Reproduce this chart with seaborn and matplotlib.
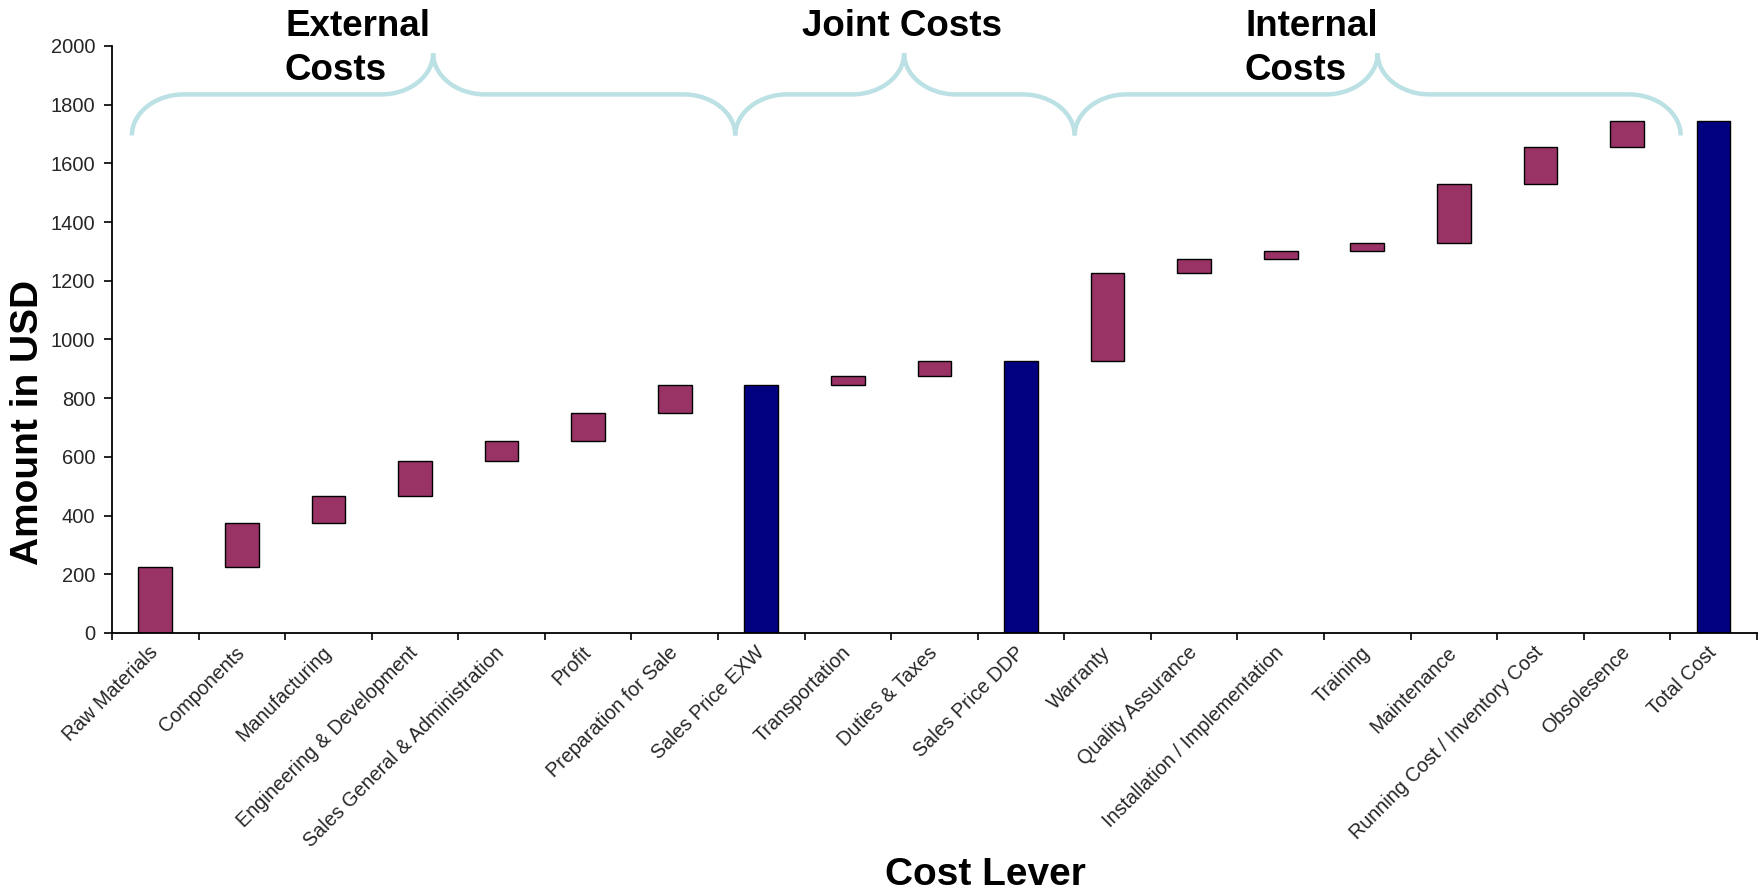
import numpy as np
import pandas as pd
import matplotlib
matplotlib.use("Agg")
import matplotlib.pyplot as plt
import seaborn as sns
from matplotlib.path import Path
from matplotlib.patches import PathPatch

# Cost levers in order, with the kind of bar each one gets
levers = [
    "Raw Materials", "Components", "Manufacturing", "Engineering & Development",
    "Sales General & Administration", "Profit", "Preparation for Sale",
    "Sales Price EXW", "Transportation", "Duties & Taxes", "Sales Price DDP",
    "Warranty", "Quality Assurance", "Installation / Implementation", "Training",
    "Maintenance", "Running Cost / Inventory Cost", "Obsolesence", "Total Cost",
]
kinds = ["step"] * 7 + ["total"] + ["step"] * 2 + ["total"] + ["step"] * 7 + ["total"]

# Amount added by each step (USD); totals are the running sum
step_amounts = [225, 150, 90, 120, 70, 95, 95, 0, 30, 50, 0,
                300, 50, 25, 30, 200, 125, 90, 0]

# Cost group headings
groups = ["External\nCosts", "Joint Costs", "Internal\nCosts"]

y_ticks = [0, 200, 400, 600, 800, 1000, 1200, 1400, 1600, 1800, 2000]

STEP_COLOR = "#993366"
TOTAL_COLOR = "#000080"
BRACE_COLOR = "#bbe1e5"

# Waterfall geometry: floating steps sit on the running total, totals start at 0
heights, bottoms = [], []
running = 0
for kind, amt in zip(kinds, step_amounts):
    if kind == "step":
        bottoms.append(running)
        heights.append(amt)
        running += amt
    else:
        bottoms.append(0)
        heights.append(running)

df = pd.DataFrame({"lever": levers, "amount": heights, "base": bottoms, "kind": kinds})

sns.set_theme(style="white")
plt.rcParams["font.family"] = ["Liberation Sans", "DejaVu Sans"]

fig = plt.figure(figsize=(17.63, 8.91), dpi=100)
ax = fig.add_axes([0.0635, 0.2896, 0.933, 0.6588])

sns.barplot(data=df, x="lever", y="amount", order=levers, bottom=df["base"].to_numpy(),
            width=0.39, color=STEP_COLOR, edgecolor="black", linewidth=1.0,
            errorbar=None, saturation=1, ax=ax)
for patch, kind in zip(ax.patches, df["kind"]):
    patch.set_facecolor(TOTAL_COLOR if kind == "total" else STEP_COLOR)

ax.set_xlim(-0.5, len(levers) - 0.5)
ax.set_ylim(0, 2000)
ax.set_yticks(y_ticks)
ax.set_yticklabels([str(t) for t in y_ticks], fontsize=14.5)

# category labels centred under bars, tick marks on the category boundaries
ax.set_xticks(range(len(levers)))
ax.set_xticklabels(levers, rotation=45, ha="right", va="center",
                   rotation_mode="anchor", fontsize=14.2)
ax.set_xticks(np.arange(-0.5, len(levers)), minor=True)
ax.tick_params(axis="x", which="major", length=0, pad=12)
ax.tick_params(axis="x", which="minor", length=5, width=1.2, direction="out",
               color="black", bottom=True)
ax.tick_params(axis="y", which="major", length=6, width=1.2, direction="out",
               color="black", left=True, pad=6)

for side in ("top", "right"):
    ax.spines[side].set_visible(False)
for side in ("left", "bottom"):
    ax.spines[side].set_color("black")
    ax.spines[side].set_linewidth(1.3)

ax.set_xlabel("Cost Lever", fontsize=28, fontweight="bold", color="black")
ax.xaxis.set_label_coords(0.531, -0.381)
ax.set_ylabel("Amount in USD", fontsize=28, fontweight="bold", color="black", va="center")
ax.yaxis.set_label_coords(-0.051, 0.359)


def brace(x0, x1, xm, y_low, y_flat, y_tip, r):
    k = 0.45
    verts = [
        (x0, y_low),
        (x0, y_low + (1 - k) * (y_flat - y_low)), (x0 + k * r, y_flat), (x0 + r, y_flat),
        (xm - r, y_flat),
        (xm - k * r, y_flat), (xm, y_flat + k * (y_tip - y_flat)), (xm, y_tip),
        (xm, y_flat + k * (y_tip - y_flat)), (xm + k * r, y_flat), (xm + r, y_flat),
        (x1 - r, y_flat),
        (x1 - k * r, y_flat), (x1, y_low + (1 - k) * (y_flat - y_low)), (x1, y_low),
    ]
    codes = [Path.MOVETO,
             Path.CURVE4, Path.CURVE4, Path.CURVE4,
             Path.LINETO,
             Path.CURVE4, Path.CURVE4, Path.CURVE4,
             Path.CURVE4, Path.CURVE4, Path.CURVE4,
             Path.LINETO,
             Path.CURVE4, Path.CURVE4, Path.CURVE4]
    return PathPatch(Path(verts, codes), facecolor="none", edgecolor=BRACE_COLOR,
                     linewidth=3.2, capstyle="butt", clip_on=False)


# braces spanning each cost group
for x0, x1, xm in [(-0.27, 6.7, 3.21), (6.7, 10.62, 8.65), (10.62, 17.62, 14.12)]:
    ax.add_patch(brace(x0, x1, xm, 1695, 1835, 1975, 0.6))

title_kw = dict(fontsize=26.5, fontweight="bold", color="black", va="top", linespacing=1.35)
top_y = 1 - 9 / 891
fig.text(285 / 1763, top_y, groups[0], ha="left", **title_kw)
fig.text(902 / 1763, top_y, groups[1], ha="center", **title_kw)
fig.text(1245 / 1763, top_y, groups[2], ha="left", **title_kw)

fig.savefig("out.png", dpi=100, facecolor="white")
